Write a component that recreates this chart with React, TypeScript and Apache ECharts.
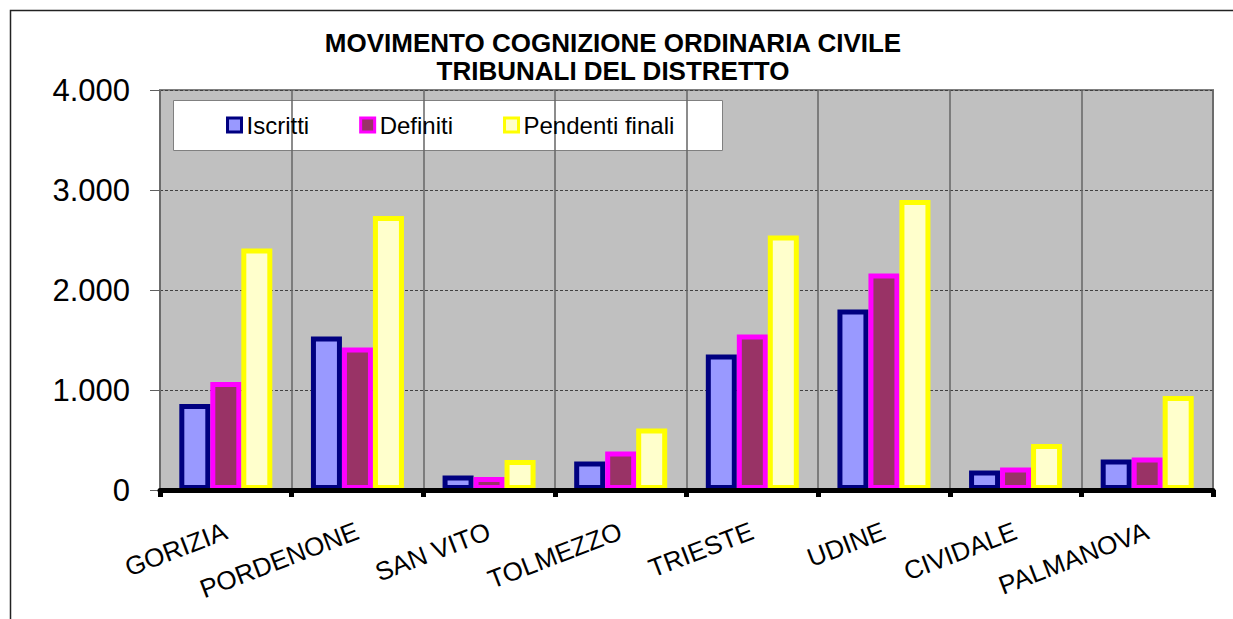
import React, { useEffect, useRef } from "react";
import * as echarts from "echarts";

const categories = ["GORIZIA", "PORDENONE", "SAN VITO", "TOLMEZZO", "TRIESTE", "UDINE", "CIVIDALE", "PALMANOVA"];
const iscritti = [860, 1535, 145, 285, 1355, 1805, 195, 305];
const definiti = [1080, 1425, 130, 385, 1555, 2165, 225, 325];
const pendenti = [2415, 2740, 300, 615, 2545, 2900, 460, 940];
const seriesNames = ["Iscritti", "Definiti", "Pendenti finali"];
const titleLines = ["MOVIMENTO COGNIZIONE ORDINARIA CIVILE", "TRIBUNALI DEL DISTRETTO"];

const FONT = '"Liberation Sans", Arial, sans-serif';

function fmt(v: number): string {
  return String(v).replace(/\B(?=(\d{3})+(?!\d))/g, ".");
}

export default function App() {
  const ref = useRef<HTMLDivElement>(null);
  useEffect(() => {
    if (!ref.current) return;
    const chart = echarts.init(ref.current, null, { renderer: "svg" });
    const mk = (name: string, data: number[], fill: string, border: string) => ({
      name,
      type: "bar",
      data,
      barWidth: 31,
      barGap: "0%",
      itemStyle: { color: fill, borderColor: border, borderWidth: 5 },
      emphasis: { disabled: true },
    });
    chart.setOption({
      animation: false,
      textStyle: { fontFamily: FONT },
      grid: {
        left: 160,
        right: 20,
        top: 90,
        bottom: 129,
        show: true,
        backgroundColor: "#C0C0C0",
        borderColor: "#808080",
        borderWidth: 2,
      },
      legend: {
        data: seriesNames,
        left: 226,
        top: 113,
        padding: 0,
        itemGap: 50,
        itemWidth: 14,
        itemHeight: 14,
        selectedMode: false,
        icon: "rect",
        itemStyle: { borderWidth: 3 },
        textStyle: { fontSize: 24, color: "#000", fontFamily: FONT, lineHeight: 24 },
        z: 10,
      },
      xAxis: {
        type: "category",
        data: categories,
        z: 5,
        axisLine: { show: true, lineStyle: { color: "#000", width: 5 } },
        axisTick: { show: true, length: 7, lineStyle: { color: "#000", width: 5 } },
        splitLine: { show: true, lineStyle: { color: "#666", width: 1.5 } },
        axisLabel: {
          rotate: 21,
          margin: 40,
          fontSize: 26,
          color: "#000",
          fontFamily: FONT,
          interval: 0,
        },
      },
      yAxis: {
        type: "value",
        min: 0,
        max: 4000,
        interval: 1000,
        axisLine: { show: true, lineStyle: { color: "#808080", width: 2 } },
        axisTick: { show: true, length: 10, lineStyle: { color: "#606060", width: 1 } },
        splitLine: { show: true, lineStyle: { color: "#404040", width: 1, type: [3, 2] } },
        axisLabel: {
          margin: 30,
          fontSize: 31,
          color: "#000",
          fontFamily: FONT,
          padding: [3, 0, 0, 0],
          formatter: (v: number) => fmt(v),
        },
      },
      graphic: [
        {
          type: "polyline",
          shape: { points: [[10.5, 700], [10.5, 10.5], [1300, 10.5]] },
          style: { stroke: "#222", lineWidth: 1.5, fill: "none" },
          silent: true,
        },
        {
          type: "rect",
          shape: { x: 173.5, y: 100.5, width: 549, height: 50 },
          style: { fill: "#fff", stroke: "#808080", lineWidth: 1 },
          z: 5,
          silent: true,
        },
        {
          type: "text",
          x: 613,
          y: 28.5,
          style: {
            text: titleLines.join("\n"),
            align: "center",
            verticalAlign: "top",
            font: `bold 26px ${FONT}`,
            lineHeight: 28,
            fill: "#000",
          },
          silent: true,
        },
      ],
      series: [
        mk(seriesNames[0], iscritti, "#9999FF", "#000080"),
        mk(seriesNames[1], definiti, "#993366", "#FF00FF"),
        mk(seriesNames[2], pendenti, "#FFFFCC", "#FFFF00"),
      ],
    });
    return () => chart.dispose();
  }, []);
  return (
    <div
      ref={ref}
      style={{ position: "absolute", left: 0, top: 0, width: 1233, height: 619, background: "#fff" }}
    />
  );
}
